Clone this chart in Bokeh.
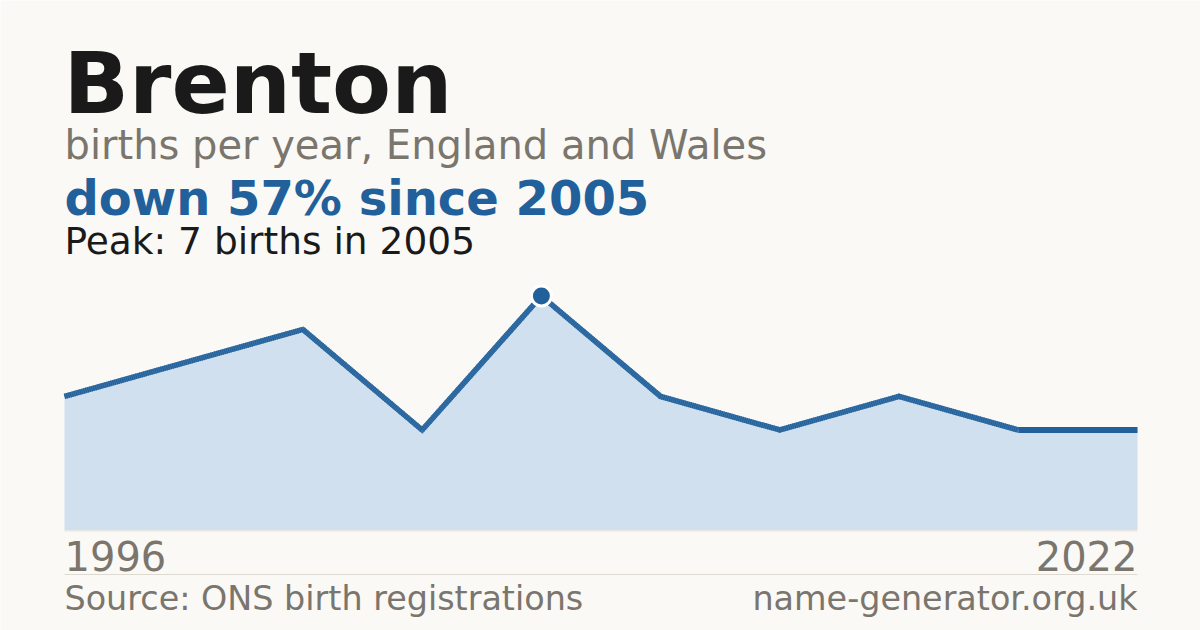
from bokeh.plotting import figure
from bokeh.models import Range1d
from bokeh.core.properties import value
from bokeh.embed import file_html
from bokeh.resources import INLINE

# ---- data ----
name = "Brenton"
years = [1996, 1998, 2001, 2003, 2005, 2009, 2013, 2016, 2019, 2022]
births = [4, 5, 6, 3, 7, 4, 3, 4, 3, 3]
axis_labels = ["1996", "2022"]
source_text = "Source: ONS birth registrations"
site_text = "name-generator.org.uk"

# ---- styles / layout ----
BG = "#faf9f5"
DARK = "#1a1a1a"
GREY = "#7a756d"
BLUE = "#21609a"
MID = "#3a73a8"
FILL = "#d1e0ef"
FONT = value("DejaVu Sans")
W, H = 1200, 630
CL, CR, CT, CB = 64, 1137, 272, 530   # chart frame in page pixels
BASE_SHIFT = 0.36                       # renderer's baseline offset, in em

peak = max(births)
peak_i = births.index(peak)
peak_year = years[peak_i]
pct = round((births[-1] - peak) / peak * 100)
headline = f"down {abs(pct)}% since {peak_year}" if pct < 0 else f"up {pct}% since {peak_year}"
idx = list(range(len(births)))

# chart scales placed inside the page-sized frame
n = len(births) - 1
xu = n / (CR - CL)                 # index units per pixel
ymax = peak * 1.1
yu = ymax / (CB - CT)              # births per pixel
cx = Range1d(0 - CL * xu, n + (W - CR) * xu)
cy = Range1d(0 - (H - CB) * yu, ymax + CT * yu)

p = figure(width=W, height=H, x_range=Range1d(0, W), y_range=Range1d(H, 0),
           output_backend="svg", toolbar_location=None,
           x_axis_location=None, y_axis_location=None, min_border=0,
           background_fill_color=BG, border_fill_color=BG, outline_line_color=None)
p.grid.visible = False
p.extra_x_ranges = {"cx": cx}
p.extra_y_ranges = {"cy": cy}


def txt(x, y, t, size, color, style="normal", align="left"):
    p.text(x=[x], y=[y - BASE_SHIFT * size], text=[t], text_font=FONT,
           text_font_size=f"{size}px", text_font_style=style, text_color=color,
           text_baseline="alphabetic", text_align=align)


# header
txt(63, 113, name, 86, DARK, "bold")
txt(64, 159, "births per year, England and Wales", 40, GREY)
txt(64, 215, headline, 48, BLUE, "bold")
txt(64, 254, f"Peak: {peak} births in {peak_year}", 37.5, DARK)

# chart
ck = dict(x_range_name="cx", y_range_name="cy")
p.varea(x=idx, y1=[0] * len(births), y2=births, fill_color=FILL, **ck)
p.line(x=idx[:-1], y=births[:-1], line_color=MID, line_width=5.5, line_join="miter", **ck)
p.line(x=idx[:-1], y=births[:-1], line_color=BLUE, line_width=5.5, line_dash="1 1",
       line_join="miter", **ck)
p.line(x=idx[-2:], y=births[-2:], line_color=BLUE, line_width=6, **ck)
p.scatter(x=[peak_i], y=[peak], size=20, marker="circle", fill_color=BLUE,
          line_color="white", line_width=3, **ck)

# footer
p.segment(x0=[CL], x1=[CR], y0=[CB + 0.5], y1=[CB + 0.5], line_color="#ece5d8", line_width=1)
p.segment(x0=[CL], x1=[CR], y0=[574], y1=[574], line_color="#dedad2", line_width=1)
txt(64, 569.5, axis_labels[0], 40, GREY)
txt(CR, 569.5, axis_labels[1], 40, GREY, align="right")
txt(64, 610, source_text, 33.4, GREY)
txt(CR, 610, site_text, 33.4, GREY, align="right")

open("out.html", "w").write(file_html(p, INLINE))
